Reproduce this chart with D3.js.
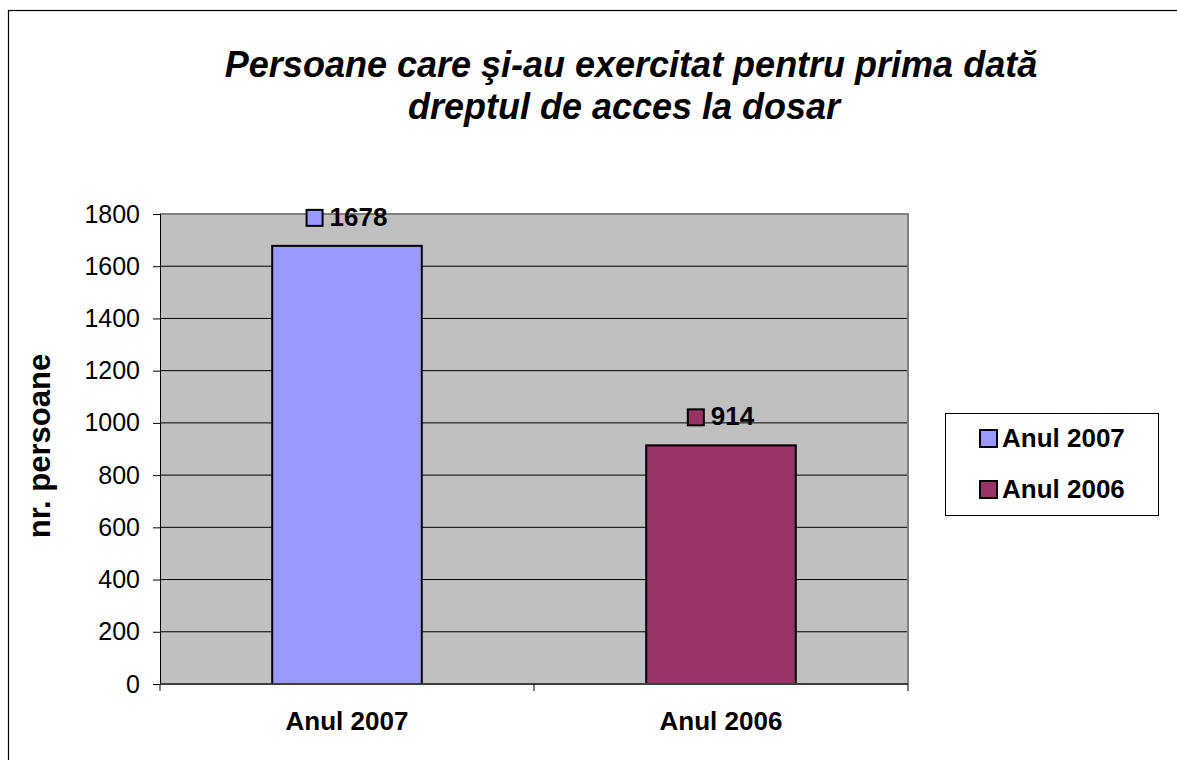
<!DOCTYPE html>
<html>
<head>
<meta charset="utf-8">
<title>Persoane care si-au exercitat dreptul de acces la dosar</title>
<script src="https://d3js.org/d3.v7.min.js"></script>
<style>
  body { margin: 0; background: #fff; }
  text { font-family: "Liberation Sans", Arial, sans-serif; }
</style>
</head>
<body>
<div id="chart"></div>
<script>
  const categories = ["Anul 2007", "Anul 2006"];
  const values = [1678, 914];
  const colors = ["#9999ff", "#993366"];
  const yTicks = [0, 200, 400, 600, 800, 1000, 1200, 1400, 1600, 1800];

  const W = 1177, H = 760;
  const plot = { left: 160, right: 908, top: 214, bottom: 684 };

  const svg = d3.select("#chart").append("svg")
    .attr("width", W)
    .attr("height", H);

  svg.append("rect")
    .attr("width", W).attr("height", H)
    .attr("fill", "#fff");

  // outer frame (runs off the right/bottom edge like the original)
  svg.append("rect")
    .attr("x", 8.5).attr("y", 10.5)
    .attr("width", W + 20).attr("height", H + 20)
    .attr("fill", "none")
    .attr("stroke", "#000")
    .attr("stroke-width", 1.2);

  // title
  const title = svg.append("text")
    .attr("text-anchor", "middle")
    .style("font-size", "36px")
    .style("font-weight", "bold")
    .style("font-style", "italic");
  title.append("tspan").attr("x", 631).attr("y", 77)
    .text("Persoane care şi-au exercitat pentru prima dată");
  title.append("tspan").attr("x", 624).attr("y", 119)
    .text("dreptul de acces la dosar");

  // scales
  const x = d3.scaleBand()
    .domain(categories)
    .range([plot.left, plot.right])
    .paddingInner(0.6)
    .paddingOuter(0.3);

  const y = d3.scaleLinear()
    .domain([0, 1800])
    .range([plot.bottom, plot.top]);

  // plot background
  svg.append("rect")
    .attr("x", plot.left).attr("y", plot.top)
    .attr("width", plot.right - plot.left)
    .attr("height", plot.bottom - plot.top)
    .attr("fill", "#c0c0c0");

  // gridlines
  svg.append("g")
    .selectAll("line")
    .data(yTicks.filter(d => d > 0 && d < 1800))
    .enter().append("line")
    .attr("x1", plot.left).attr("x2", plot.right)
    .attr("y1", d => y(d)).attr("y2", d => y(d))
    .attr("stroke", "#000")
    .attr("stroke-width", 1);

  // plot border top/right in gray
  svg.append("path")
    .attr("d", `M${plot.left},${plot.top}H${plot.right}V${plot.bottom}`)
    .attr("fill", "none")
    .attr("stroke", "#808080")
    .attr("stroke-width", 2);

  // bars
  svg.selectAll(".bar")
    .data(values)
    .enter().append("rect")
    .attr("class", "bar")
    .attr("x", (d, i) => x(categories[i]))
    .attr("y", d => y(d))
    .attr("width", x.bandwidth())
    .attr("height", d => y(0) - y(d))
    .attr("fill", (d, i) => colors[i])
    .attr("stroke", "#000")
    .attr("stroke-width", 2);

  // y axis
  const yAxis = svg.append("g")
    .attr("transform", `translate(${plot.left},0)`)
    .call(d3.axisLeft(y).tickValues(yTicks).tickSize(7).tickPadding(13).tickFormat(d3.format("d")));
  yAxis.select(".domain").attr("stroke", "#000").attr("stroke-width", 1);
  yAxis.selectAll(".tick line").attr("stroke", "#000");
  yAxis.selectAll("text")
    .style("font-size", "25px")
    .attr("fill", "#000");

  // x axis (ticks at category boundaries)
  const xEdges = [plot.left, (plot.left + plot.right) / 2, plot.right];
  svg.append("line")
    .attr("x1", plot.left).attr("x2", plot.right)
    .attr("y1", plot.bottom).attr("y2", plot.bottom)
    .attr("stroke", "#404040").attr("stroke-width", 2);
  svg.append("g").selectAll("line")
    .data(xEdges)
    .enter().append("line")
    .attr("x1", d => d).attr("x2", d => d)
    .attr("y1", plot.bottom).attr("y2", plot.bottom + 7)
    .attr("stroke", "#000");

  svg.append("g").selectAll("text")
    .data(categories)
    .enter().append("text")
    .attr("x", d => x(d) + x.bandwidth() / 2)
    .attr("y", 730)
    .attr("text-anchor", "middle")
    .style("font-size", "26px")
    .style("font-weight", "bold")
    .text(d => d);

  // y axis title
  svg.append("text")
    .attr("transform", `translate(50,446) rotate(-90)`)
    .attr("text-anchor", "middle")
    .style("font-size", "31px")
    .style("font-weight", "bold")
    .text("nr. persoane");

  // data labels with legend key, centred as a group over each bar
  const labels = svg.append("g").selectAll("g")
    .data(values)
    .enter().append("g");
  labels.append("text")
    .attr("y", 0)
    .style("font-size", "26px")
    .style("font-weight", "bold")
    .text(d => d);
  labels.each(function(d, i) {
    const g = d3.select(this);
    const tw = g.select("text").node().getComputedTextLength();
    const total = 16 + 7 + tw;
    const cx = x(categories[i]) + x.bandwidth() / 2;
    g.attr("transform", `translate(${cx - total / 2},${y(d) - 20})`);
    g.select("text").attr("x", 23);
    g.insert("rect", "text")
      .attr("x", 0).attr("y", -16)
      .attr("width", 16).attr("height", 16)
      .attr("fill", colors[i])
      .attr("stroke", "#000")
      .attr("stroke-width", 2);
  });

  // legend
  const legend = svg.append("g");
  legend.append("rect")
    .attr("x", 945.5).attr("y", 413.5)
    .attr("width", 213).attr("height", 102)
    .attr("fill", "#fff")
    .attr("stroke", "#000")
    .attr("stroke-width", 1);
  const items = legend.selectAll(".item")
    .data(categories)
    .enter().append("g")
    .attr("class", "item")
    .attr("transform", (d, i) => `translate(980,${447 + i * 51})`);
  items.append("rect")
    .attr("x", 0).attr("y", -17)
    .attr("width", 17).attr("height", 17)
    .attr("fill", (d, i) => colors[i])
    .attr("stroke", "#000")
    .attr("stroke-width", 2);
  items.append("text")
    .attr("x", 22)
    .attr("y", 0)
    .style("font-size", "26px")
    .style("font-weight", "bold")
    .text(d => d);
</script>
</body>
</html>
